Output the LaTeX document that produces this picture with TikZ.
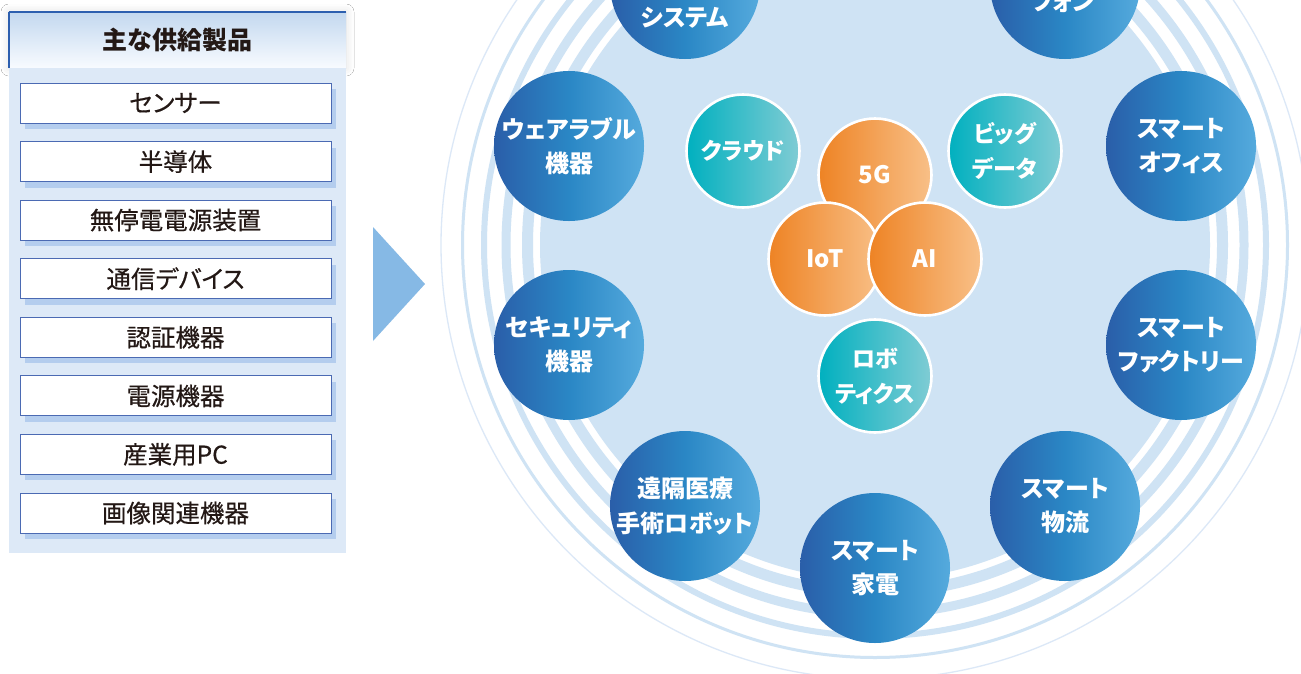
\documentclass[tikz,border=0pt]{standalone}
\usepackage{fontspec}
\setmainfont{Noto Sans CJK JP}[RawFeature=+palt]
\newfontfamily\jpmed{Noto Sans CJK JP}[RawFeature=+palt, FakeBold=0.5]
\usetikzlibrary{shadows,shadows.blur}
\definecolor{txt}{HTML}{231815}
\definecolor{panelc}{HTML}{DDE9F7}
\definecolor{hT}{HTML}{C3D8EF}
\definecolor{hB}{HTML}{F8FBFF}
\definecolor{hLine}{HTML}{2D5FAF}
\definecolor{itemB}{HTML}{4B6AB3}
\definecolor{itemS}{HTML}{B4CDEE}
\definecolor{arrowc}{HTML}{86B9E5}
\definecolor{discc}{HTML}{CFE3F4}
\definecolor{thinc}{HTML}{DCE8F7}
\definecolor{oL}{HTML}{2A5EA9}
\definecolor{oM}{HTML}{2A87C5}
\definecolor{oR}{HTML}{55AADD}
\definecolor{tL}{HTML}{00B0BF}
\definecolor{tR}{HTML}{80CCD4}
\definecolor{gL}{HTML}{EE8324}
\definecolor{gR}{HTML}{F8C088}
\tikzset{
  outerc/.style={circle, minimum size=150pt, inner sep=0pt, left color=oL, right color=oR, middle color=oM,
    text=white, align=center, font=\bfseries\fontsize{24}{34.5}\selectfont},
  cuttext/.style={inner sep=0pt, text=white, font=\bfseries\fontsize{24}{34.5}\selectfont},
  tealc/.style={circle, minimum size=113pt, inner sep=0pt, draw=white, line width=2.6pt,
    left color=tL, right color=tR, text=white, align=center, font=\bfseries\fontsize{23}{35}\selectfont},
  orangec/.style={circle, minimum size=113pt, inner sep=0pt, draw=white, line width=2.6pt,
    left color=gL, right color=gR, text=white, align=center, font=\bfseries\fontsize{24}{30}\selectfont},
  itembox/.style={draw=itemB, line width=1pt, fill=white, minimum width=311pt, minimum height=40pt,
    inner sep=0pt, text=txt, font=\jpmed\fontsize{24.5}{28}\selectfont,
    general shadow={fill=itemS, shadow xshift=5pt, shadow yshift=-6pt}},
  headbox/.style={minimum width=337pt, minimum height=56pt, inner sep=0pt, top color=hT, bottom color=hB,
    text=txt, font=\bfseries\fontsize{25}{30}\selectfont,
    blur shadow={shadow xshift=0pt, shadow yshift=0pt, shadow blur radius=8pt, shadow opacity=14}},
  panelbox/.style={fill=panelc, minimum width=337pt, minimum height=485pt, inner sep=0pt},
  band/.style={draw=discc},
}
\begin{document}
\begin{tikzpicture}[x=1pt,y=-1pt]
\useasboundingbox (0,0) rectangle (1301,673);
\fill[white] (0,0) rectangle (1301,673);
% ---------- left panel
\node[headbox] (hd) at (177.5,40) {主な供給製品};
\node[panelbox] (panel) at (177.5,310.5) {};
\draw[hLine, line width=2pt] (hd.north west) -- (hd.north east);
\draw[hLine, line width=1.4pt] (hd.north west) -- (hd.south west);
\node[itembox] (i1) at (175.5,103) {センサー};
\node[itembox] (i2) at (175.5,161.6) {半導体};
\node[itembox] (i3) at (175.5,220.1) {無停電電源装置};
\node[itembox] (i4) at (175.5,278.7) {通信デバイス};
\node[itembox] (i5) at (175.5,337.3) {認証機器};
\node[itembox] (i6) at (175.5,395.9) {電源機器};
\node[itembox] (i7) at (175.5,454.4) {産業用PC};
\node[itembox] (i8) at (175.5,513) {画像関連機器};
% ---------- arrow
\fill[arrowc] (373,227) -- (425,284) -- (373,341) -- cycle;
% ---------- rings
\begin{scope}
\clip (0,0) rectangle (1301,673);
\coordinate (c) at (875,245);
\draw[draw=thinc, line width=1.3pt] (c) circle (434pt);
\draw[band, line width=3pt] (c) circle (412.5pt);
\draw[band, line width=6pt] (c) circle (391pt);
\draw[band, line width=9pt] (c) circle (369pt);
\draw[band, line width=11pt] (c) circle (347.5pt);
\fill[discc] (c) circle (335pt);
% outer ring of nodes
\node[outerc] (o0) at (875,568) {スマート\\家電};
\node[outerc] (o1) at (1065,506) {スマート\\物流};
\node[outerc] (o2) at (1181,345) {スマート\\ファクトリー};
\node[outerc] (o3) at (1181,146) {スマート\\オフィス};
\node[outerc] (o4) at (1065,-16) {};
\node[outerc] (o5) at (875,-78) {};
\node[outerc] (o6) at (685,-16) {};
\node[outerc] (o7) at (569,146) {ウェアラブル\\機器};
\node[outerc] (o8) at (569,345) {セキュリティ\\機器};
\node[outerc] (o9) at (685,506) {遠隔医療\\手術ロボット};
\node[cuttext] (t4) at (1063,2) {フォン};
\node[cuttext] (t6) at (685,18) {システム};
% inner nodes
\node[tealc] (cl) at (743,151) {クラウド};
\node[tealc] (bd) at (1005,151) {ビッグ\\データ};
\node[orangec] (g5) at (875,175) {5G};
\node[orangec] (iot) at (825,259) {IoT};
\node[orangec] (ai) at (925,259) {AI};
\node[tealc] (rb) at (875,376) {ロボ\\ティクス};
\end{scope}
\end{tikzpicture}
\end{document}
